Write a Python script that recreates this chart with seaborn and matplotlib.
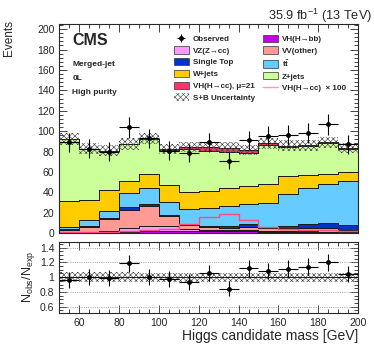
import numpy as np
import pandas as pd
import matplotlib
matplotlib.use("Agg")
import matplotlib.pyplot as plt
import seaborn as sns
from matplotlib.patches import Patch
from matplotlib.lines import Line2D
from matplotlib.ticker import MultipleLocator

# bins of the Higgs candidate mass [GeV]
bin_edges = [50, 60, 70, 80, 90, 100, 110, 120, 130, 140, 150, 160, 170, 180, 190, 200]
bin_centers = [55, 65, 75, 85, 95, 105, 115, 125, 135, 145, 155, 165, 175, 185, 195]

# backgrounds, bottom -> top of the stack
vh_bb = [0.5, 0.8, 2.0, 1.4, 2.0, 2.0, 2.0, 2.0, 2.3, 2.0, 1.5, 1.5, 1.2, 1.2, 1.0]
vz_cc = [0.5, 0.8, 0.3, 3.5, 5.4, 5.4, 2.0, 1.2, 1.0, 0.8, 1.0, 0.8, 0.6, 0.5, 0.4]
vv_other = [2.0, 4.9, 11.3, 18.1, 19.1, 9.6, 4.0, 3.3, 2.2, 3.0, 3.0, 2.6, 3.1, 3.2, 2.1]
single_top = [1.5, 0.9, 1.0, 3.0, 2.5, 1.0, 0.7, 0.9, 1.9, 2.9, 1.0, 2.5, 4.1, 4.8, 4.5]
ttbar = [2.0, 5.6, 7.1, 13.0, 15.0, 13.0, 15.3, 17.6, 19.6, 19.8, 23.5, 31.1, 35.0, 38.8, 43.0]
w_jets = [25.0, 19.7, 21.0, 12.5, 14.0, 16.5, 16.5, 16.8, 17.0, 18.0, 18.0, 18.0, 13.5, 9.8, 9.5]
z_jets = [60.7, 49.6, 38.0, 35.7, 34.0, 34.1, 41.9, 39.1, 36.0, 32.0, 38.6, 28.5, 27.8, 30.0, 22.5]
# signal VH(H->cc) at mu = 1
vh_cc = [0.016, 0.016, 0.016, 0.023, 0.035, 0.047, 0.09, 0.16, 0.188, 0.133, 0.065, 0.045, 0.035, 0.035, 0.023]
mu_sig = 21
observed = [89, 83, 80, 104, 93, 81, 79, 89, 71, 91, 95, 96, 98, 107, 87]
rel_unc = [0.065, 0.065, 0.065, 0.065, 0.06, 0.06, 0.06, 0.06, 0.06, 0.06, 0.06, 0.06, 0.06, 0.06, 0.06]

proc_names = ["VH(H\u2192bb)", "VZ(Z\u2192cc)", "VV(other)", "Single Top", "t$\\bar{\\rm t}$",
              "W+jets", "Z+jets", "VH(H\u2192cc), \u03bc=21"]
proc_colors = ["#c600e6", "#ff99ff", "#ff9a94", "#0033cc", "#66ccff", "#ffcc00", "#ccff99", "#ff3366"]

sig_stack = [v * mu_sig for v in vh_cc]
sig_x100 = [v * 100 for v in vh_cc]
yields = [vh_bb, vz_cc, vv_other, single_top, ttbar, w_jets, z_jets, sig_stack]

rows = []
for name, vals in zip(proc_names, yields):
    for c, v in zip(bin_centers, vals):
        rows.append({"mass": c, "process": name, "events": v})
df = pd.DataFrame(rows)

total = np.sum(np.array(yields), axis=0)
obs = np.array(observed, dtype=float)
unc = total * np.array(rel_unc)

sns.set_style("ticks")
plt.rcParams["font.family"] = ["Liberation Sans", "DejaVu Sans"]
plt.rcParams["hatch.linewidth"] = 0.45
plt.rcParams["mathtext.fontset"] = "custom"
plt.rcParams["mathtext.rm"] = "Liberation Sans"
plt.rcParams["mathtext.it"] = "Liberation Sans:italic"
plt.rcParams["mathtext.bf"] = "Liberation Sans:bold"

fig = plt.figure(figsize=(3.74, 3.44), dpi=100)
ax = fig.add_axes([0.1586, 0.3218, 0.7987, 0.6084])
rax = fig.add_axes([0.1586, 0.0910, 0.7987, 0.2064])

sns.histplot(data=df, x="mass", weights="events", hue="process", hue_order=proc_names[::-1],
             palette=dict(zip(proc_names, proc_colors)), multiple="stack", bins=bin_edges,
             element="step", alpha=1, edgecolor="#1a1a1a", linewidth=0.7, legend=False, ax=ax)

# uncertainty band
lo = np.append(total - unc, (total - unc)[-1])
hi = np.append(total + unc, (total + unc)[-1])
ax.fill_between(bin_edges, lo, hi, step="post", facecolor="none", edgecolor="#444444",
                hatch="xxxxxx", linewidth=0)

# signal x100 line
sns.histplot(x=bin_centers, weights=sig_x100, bins=bin_edges, element="step", fill=False,
             color="#ff4d7a", linewidth=1.0, ax=ax)

ax.errorbar(bin_centers, obs, xerr=5, yerr=np.sqrt(obs), fmt="o", color="black",
            ms=2.5, elinewidth=0.8, capsize=0)

ax.set_xlim(50, 200)
ax.set_ylim(0, 205)
ax.set_xlabel("")
ax.set_ylabel("Events", loc="top", fontsize=8.5)
ax.yaxis.set_label_coords(-0.15, 1.02)
ax.tick_params(labelbottom=False)
ax.yaxis.set_major_locator(MultipleLocator(20))
ax.yaxis.set_minor_locator(MultipleLocator(4))
for a in (ax, rax):
    a.xaxis.set_major_locator(MultipleLocator(20))
    a.xaxis.set_minor_locator(MultipleLocator(5))
    a.tick_params(direction="in", which="both", top=True, right=True, labelsize=7.5)
    a.tick_params(which="major", length=5.5, width=0.6)
    a.tick_params(which="minor", length=2.8, width=0.6)
    for s in a.spines.values():
        s.set_linewidth(0.8)

fig.text(0.995, 0.955, "35.9 fb$^{-1}$ (13 TeV)", ha="right", va="center", fontsize=9.2)
ax.text(0.043, 0.955, "CMS", transform=ax.transAxes, fontsize=11.5, fontweight="bold", va="top")
for i, t in enumerate(["Merged-jet", "0L", "High purity"]):
    ax.text(0.043, 0.805 - i * 0.065, t, transform=ax.transAxes, fontsize=6, fontweight="bold", va="center")

# legend
obs_handle = ax.errorbar([], [], xerr=1, yerr=1, fmt="o", color="black", ms=2.5, elinewidth=0.8)
patches = {n: Patch(facecolor=c, edgecolor="#333333", linewidth=0.5) for n, c in zip(proc_names, proc_colors)}
unc_handle = Patch(facecolor="none", edgecolor="#555555", hatch="xxxxxx", linewidth=0)
line_handle = Line2D([], [], color="#ff99b3", lw=1.0)
handles = [obs_handle, patches[proc_names[1]], patches[proc_names[3]], patches[proc_names[5]],
           patches[proc_names[7]], unc_handle,
           patches[proc_names[0]], patches[proc_names[2]], patches[proc_names[4]], patches[proc_names[6]],
           line_handle]
labels = ["Observed", proc_names[1], proc_names[3], proc_names[5], proc_names[7], "S+B Uncertainty",
          proc_names[0], proc_names[2], "t$\\mathbf{\\bar{t}}$", proc_names[6], "VH(H\u2192cc)  \u00d7 100"]
leg = ax.legend(handles, labels, ncol=2, loc="upper left", bbox_to_anchor=(0.372, 0.965),
                frameon=False, fontsize=5.8, handlelength=1.9, handleheight=1.0,
                handletextpad=0.45, columnspacing=1.0, labelspacing=0.42, borderaxespad=0)
for t in leg.get_texts():
    t.set_fontweight("bold")

# ratio panel
ratio = obs / total
ratio_err = np.sqrt(obs) / total
rlo = np.append(1 - unc / total, (1 - unc / total)[-1])
rhi = np.append(1 + unc / total, (1 + unc / total)[-1])
rax.fill_between(bin_edges, rlo, rhi, step="post", facecolor="none", edgecolor="#444444",
                 hatch="xxxxxx", linewidth=0)
for yv in [0.6, 0.8, 1.0, 1.2, 1.4]:
    rax.axhline(yv, color="#888888", lw=0.6, ls=":")
rax.axhline(1.0, color="black", lw=0.6)
rax.errorbar(bin_centers, ratio, xerr=5, yerr=ratio_err, fmt="o", color="black",
             ms=2.5, elinewidth=0.8, capsize=0)
rax.set_xlim(50, 200)
rax.set_ylim(0.52, 1.48)
rax.set_yticks([0.6, 0.8, 1.0, 1.2, 1.4])
rax.set_yticklabels(["0.6", "0.8", "1", "1.2", "1.4"])
rax.yaxis.set_minor_locator(MultipleLocator(0.05))
rax.set_xlabel("Higgs candidate mass [GeV]", loc="right", fontsize=10, labelpad=1)
rax.set_ylabel("N$_{\\rm obs}$/N$_{\\rm exp}$", fontsize=9, labelpad=2)

fig.savefig("out.png", dpi=100)
